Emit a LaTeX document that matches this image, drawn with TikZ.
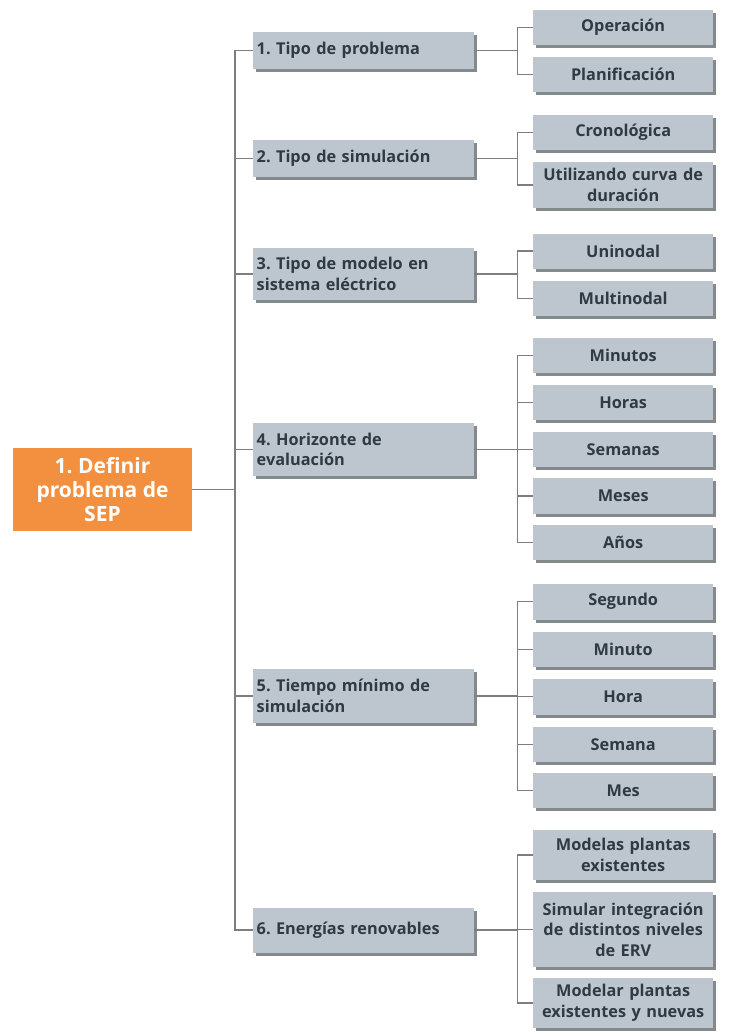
\documentclass[tikz,border=0pt]{standalone}
\usepackage{fontspec}
\setmainfont{Open Sans}
\usetikzlibrary{shadows}
\definecolor{boxfill}{HTML}{BDC6CE}
\definecolor{boxshade}{HTML}{6F7478}
\definecolor{rootfill}{HTML}{F39040}
\definecolor{linkgray}{HTML}{7E7E7E}
\definecolor{txt}{HTML}{2F3A42}
\frenchspacing
\begin{document}
\begin{tikzpicture}[x=1pt,y=-1pt,
  shade/.style={general shadow={fill=boxshade, opacity=0.85, shadow xshift=2.5pt, shadow yshift=-3pt}},
  rootbox/.style={fill=rootfill, text=white, font=\fontsize{21}{24}\selectfont\bfseries,
    align=center, minimum width=179pt, minimum height=83pt, inner sep=0pt},
  topicbox/.style={shade, fill=boxfill, text=txt, font=\fontsize{16.3}{20.5}\selectfont\bfseries,
    align=left, text width=214pt, inner xsep=3.5pt, inner ysep=0pt, anchor=west},
  leafbox/.style={shade, fill=boxfill, text=txt, font=\fontsize{16.3}{20.5}\selectfont\bfseries,
    align=center, text width=176pt, inner xsep=2pt, inner ysep=0pt, anchor=west},
  link/.style={draw=linkgray, line width=1.8pt}]
\useasboundingbox (0,0) rectangle (735,1033);

% root
\node[rootbox] (root) at (102.5,489.5) {1. Definir\\problema de\\SEP};

% first level
\node[topicbox, minimum height=37pt] (t1) at (253,50.5) {1. Tipo de problema};
\node[topicbox, minimum height=37pt] (t2) at (253,158.5) {2. Tipo de simulación};
\node[topicbox, minimum height=52pt] (t3) at (253,274) {3. Tipo de modelo en\\sistema eléctrico};
\node[topicbox, minimum height=53pt] (t4) at (253,449.5) {4. Horizonte de\\evaluación};
\node[topicbox, minimum height=54pt] (t5) at (253,696) {5. Tiempo mínimo de\\simulación};
\node[topicbox, minimum height=45pt] (t6) at (253,930) {6. Energías renovables};

% second level
\node[leafbox, minimum height=35pt] (l11) at (533,27.5) {Operación};
\node[leafbox, minimum height=35pt] (l12) at (533,74.5) {Planificación};
\node[leafbox, minimum height=35pt] (l21) at (533,132.5) {Cronológica};
\node[leafbox, minimum height=46pt] (l22) at (533,185) {Utilizando curva de\\duración};
\node[leafbox, minimum height=35pt] (l31) at (533,251) {Uninodal};
\node[leafbox, minimum height=35pt] (l32) at (533,298.5) {Multinodal};
\node[leafbox, minimum height=35pt] (l41) at (533,355.5) {Minutos};
\node[leafbox, minimum height=35pt] (l42) at (533,402.5) {Horas};
\node[leafbox, minimum height=35pt] (l43) at (533,449.5) {Semanas};
\node[leafbox, minimum height=36pt] (l44) at (533,496) {Meses};
\node[leafbox, minimum height=35pt] (l45) at (533,542.5) {Años};
\node[leafbox, minimum height=36pt] (l51) at (533,601.5) {Segundo};
\node[leafbox, minimum height=35pt] (l52) at (533,649.5) {Minuto};
\node[leafbox, minimum height=36pt] (l53) at (533,696.5) {Hora};
\node[leafbox, minimum height=35pt] (l54) at (533,744.5) {Semana};
\node[leafbox, minimum height=35pt] (l55) at (533,790.5) {Mes};
\node[leafbox, minimum height=50pt] (l61) at (533,855) {Modelas plantas\\existentes};
\node[leafbox, minimum height=75pt] (l62) at (533,929.5) {Simular integración\\de distintos niveles\\de ERV};
\node[leafbox, minimum height=50pt] (l63) at (533,1003) {Modelar plantas\\existentes y nuevas};

% connectors: root to first level
\foreach \t in {t1,t2,t3,t4,t5,t6}
  \draw[link] (root.east) -- ++(43,0) |- (\t.west);

% connectors: first level to second level
\foreach \t/\l in {t1/l11,t1/l12,t2/l21,t2/l22,t3/l31,t3/l32,
                   t4/l41,t4/l42,t4/l43,t4/l44,t4/l45,
                   t5/l51,t5/l52,t5/l53,t5/l54,t5/l55,
                   t6/l61,t6/l62,t6/l63}
  \draw[link] (\t.east) -- ++(43,0) |- (\l.west);
\end{tikzpicture}
\end{document}
